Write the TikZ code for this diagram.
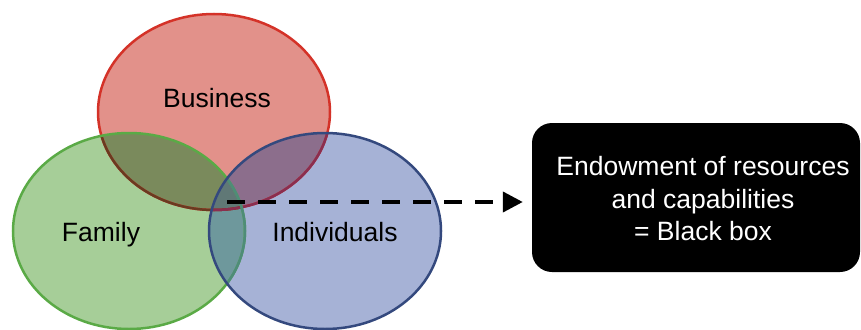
\documentclass[tikz,border=0pt]{standalone}
\usepackage{fontspec}
\setmainfont{Liberation Sans}
\usetikzlibrary{arrows.meta}

% fills of the three sets and of their overlaps
\definecolor{busfill}{RGB}{226,145,138}
\definecolor{famfill}{RGB}{166,206,152}
\definecolor{indfill}{RGB}{166,178,214}
\definecolor{bfFill}{RGB}{122,138,92}
\definecolor{biFill}{RGB}{140,110,140}
\definecolor{fiFill}{RGB}{110,152,156}
\definecolor{bfiFill}{RGB}{96,120,118}
% outlines
\definecolor{busline}{RGB}{212,50,40}
\definecolor{buslineF}{RGB}{106,58,32}
\definecolor{buslineI}{RGB}{138,46,80}
\definecolor{famline}{RGB}{90,170,70}
\definecolor{famlineI}{RGB}{78,140,120}
\definecolor{indline}{RGB}{52,73,126}

\begin{document}
\begin{tikzpicture}[x=1pt,y=-1pt,
  venn/.style={x radius=116pt, y radius=98pt},
  rim/.style={line width=2.5pt},
  lbl/.style={font=\fontsize{26.5}{32.5}\selectfont, inner sep=0pt},
  flow/.style={line width=4pt, dash pattern=on 18pt off 13pt,
    -{Triangle[length=20pt,width=20pt]}, shorten >=9pt}]
\useasboundingbox (0,0) rectangle (861,329);

\coordinate (bc) at (214,112);
\coordinate (fc) at (129,231);
\coordinate (ic) at (325,231);

% set fills
\fill[busfill] (bc) ellipse [venn];
\fill[famfill] (fc) ellipse [venn];
\fill[indfill] (ic) ellipse [venn];

% overlap fills
\begin{scope}
  \clip (bc) ellipse [venn];
  \fill[bfFill] (fc) ellipse [venn];
  \fill[biFill] (ic) ellipse [venn];
\end{scope}
\begin{scope}
  \clip (fc) ellipse [venn];
  \fill[fiFill] (ic) ellipse [venn];
\end{scope}
\begin{scope}
  \clip (bc) ellipse [venn];
  \clip (fc) ellipse [venn];
  \fill[bfiFill] (ic) ellipse [venn];
\end{scope}

% outlines, darker where they run through another set
\draw[rim, busline] (bc) ellipse [venn];
\begin{scope}
  \clip (fc) ellipse [venn];
  \draw[rim, buslineF] (bc) ellipse [venn];
\end{scope}
\begin{scope}
  \clip (ic) ellipse [venn];
  \draw[rim, buslineI] (bc) ellipse [venn];
\end{scope}
\draw[rim, famline] (fc) ellipse [venn];
\begin{scope}
  \clip (ic) ellipse [venn];
  \draw[rim, famlineI] (fc) ellipse [venn];
\end{scope}
\draw[rim, indline] (ic) ellipse [venn];

% labels
\node[lbl, anchor=base] (business) at (217,107) {Business};
\node[lbl, anchor=base] (family) at (101,241) {Family};
\node[lbl, anchor=base] (individuals) at (335,241) {Individuals};

% black box
\node[fill=black, rounded corners=20pt, minimum width=328pt,
  minimum height=149pt, inner sep=0pt] (box) at (696,197.5) {};
\node[lbl, text=white, align=center] (boxtext) at (703,199)
  {Endowment of resources\\and capabilities\\= Black box};

% dashed connector
\coordinate (dstart) at (227,202);
\coordinate (dend) at (box.west |- dstart);
\draw[flow] (dstart) -- (dend);
\end{tikzpicture}
\end{document}
